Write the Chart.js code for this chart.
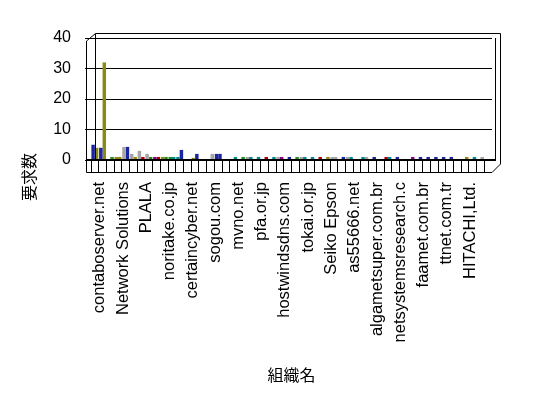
<!DOCTYPE html>
<html>
<head>
<meta charset="utf-8">
<script src="https://cdn.jsdelivr.net/npm/chart.js@4.4.0/dist/chart.umd.min.js"></script>
<style>
  body { margin: 0; background: #fff; }
  #wrap { width: 548px; height: 398px; }
</style>
</head>
<body>
<div id="wrap"><canvas id="grafico" width="548" height="398"></canvas></div>
<script>
// nomes que aparecem no eixo (um a cada 3 categorias)
const orgNames = ['contaboserver.net', 'Network Solutions', 'PLALA', 'noritake.co.jp',
  'certaincyber.net', 'sogou.com', 'mvno.net', 'pfa.or.jp', 'hostwindsdns.com',
  'tokai.or.jp', 'Seiko Epson', 'as55666.net', 'algametsuper.com.br',
  'netsystemsresearch.c', 'faamet.com.br', 'ttnet.com.tr', 'HITACHI,Ltd.'];

// valores (52 categorias, duas séries)
const serieA = [5, 4, 0, 1, 4.3, 2, 3, 2, 1, 1, 1, 1, 0, 0.7, 0, 0, 2, 0, 0, 0,
  1, 0, 0, 0, 1, 0, 0, 1, 0, 0, 0, 1, 0, 1, 0, 1, 0, 0, 1, 0,
  0, 0, 0, 0, 0, 0, 0, 0, 0, 0, 0, 0];
const serieB = [4, 32, 1, 1, 4.3, 1, 1, 1, 1, 1, 1, 3.3, 0, 2, 0, 2, 2, 0, 1, 1,
  1, 1, 1, 1, 1, 1, 1, 1, 1, 1, 1, 1, 1, 1, 0, 1, 1, 0, 1, 1,
  0, 1, 1, 1, 1, 1, 1, 0, 1, 1, 1, 1];

const yTicks = [0, 10, 20, 30, 40];
const tituloY = '要求数';
const tituloX = '組織名';

// cores de cada barra
const paleta = { N: '#1c24a0', O: '#8a8a14', R: '#b00000', G: '#a6a6a6',
  T: '#008a8a', V: '#1e8c1e', P: '#8a008a' };
const coresA = 'NNOOGGGGPOVTOONNNNNNGNNNGNNGNNNGNGNTNNRNNNNNNNNNNNNN'.split('');
const coresB = 'OOVONORVRVTNONNGNNTVTTRTPNVTTROGNTNGNNTNNPNNNNNNOTGN'.split('');

const labels = serieA.map((v, i) => i % 3 === 0 ? orgNames[i / 3] : '');

const fonte = "'Liberation Sans', 'Noto Sans CJK JP', Arial, sans-serif";

// moldura 3D simples em volta da área do gráfico + título do eixo Y
const moldura = {
  id: 'moldura',
  afterDraw(chart) {
    const { ctx, chartArea: a } = chart;
    const L = Math.round(a.left), R = Math.round(a.right);
    const T = Math.round(a.top), B = Math.round(a.bottom);
    ctx.save();
    ctx.strokeStyle = '#000';
    ctx.lineWidth = 1;
    ctx.beginPath();
    ctx.moveTo(L - 4.5, T + 3); ctx.lineTo(L - 4.5, B + 12.5);
    ctx.moveTo(L + 4.5, T - 4); ctx.lineTo(L + 4.5, B);
    ctx.moveTo(L - 4.5, T + 3); ctx.lineTo(L + 4.5, T - 4.5);
    ctx.moveTo(L + 4.5, T - 4.5); ctx.lineTo(R + 8.5, T - 4.5);
    ctx.moveTo(R + 8.5, T - 4.5); ctx.lineTo(R + 8.5, B + 4);
    ctx.moveTo(R + 3.5, T); ctx.lineTo(R + 3.5, B);
    ctx.moveTo(R + 8.5, B + 4); ctx.lineTo(R, B + 12.5);
    ctx.moveTo(L - 4.5, B + 12.5); ctx.lineTo(R, B + 12.5);
    ctx.stroke();
    ctx.lineWidth = 2;
    ctx.beginPath();
    ctx.moveTo(L - 4, B); ctx.lineTo(R + 4, B);
    ctx.stroke();

    // título do eixo Y (mais baixo que o centro, como no original)
    ctx.translate(31, 177);
    ctx.rotate(-Math.PI / 2);
    ctx.fillStyle = '#000';
    ctx.font = '16px ' + fonte;
    ctx.textAlign = 'center';
    ctx.textBaseline = 'middle';
    ctx.fillText(tituloY, 0, 0);
    ctx.restore();
  }
};

const ctx = document.getElementById('grafico').getContext('2d');
new Chart(ctx, {
  type: 'bar',
  data: {
    labels: labels,
    datasets: [
      { label: 'A', data: serieA, backgroundColor: coresA.map(c => paleta[c]), borderWidth: 0 },
      { label: 'B', data: serieB, backgroundColor: coresB.map(c => paleta[c]), borderWidth: 0 }
    ]
  },
  options: {
    responsive: false,
    animation: false,
    layout: { padding: { left: 17, right: 56, top: 38, bottom: 12 } },
    datasets: { bar: { categoryPercentage: 0.9, barPercentage: 1 } },
    plugins: { legend: { display: false }, tooltip: { enabled: false } },
    scales: {
      x: {
        afterFit(scale) { scale.height = 226; },
        border: { display: false },
        grid: { drawOnChartArea: false, drawTicks: true, tickLength: 12, color: '#000', offset: true },
        ticks: { autoSkip: false, maxRotation: 90, minRotation: 90, padding: 10, labelOffset: 5,
          color: '#000', font: { family: fonte, size: 16.5 } },
        title: { display: true, text: tituloX, color: '#000', padding: { top: 16, bottom: 0 },
          font: { family: fonte, size: 16 } }
      },
      y: {
        min: 0, max: 40,
        afterBuildTicks(scale) { scale.ticks = yTicks.map(v => ({ value: v })); },
        afterFit(scale) { scale.width = 74; },
        border: { display: false },
        grid: { color: '#000', tickLength: 6 },
        ticks: { padding: 14, color: '#000', font: { family: fonte, size: 16 } }
      }
    }
  },
  plugins: [moldura]
});
</script>
</body>
</html>
